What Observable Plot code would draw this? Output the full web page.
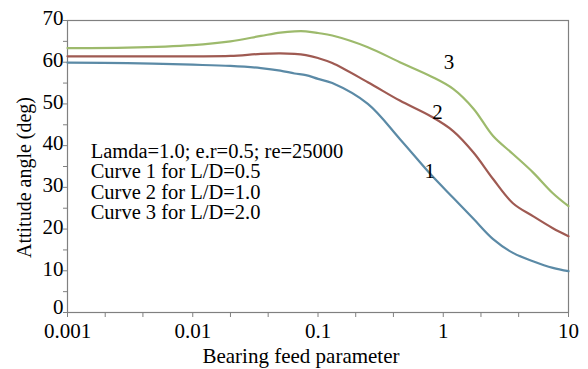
<!DOCTYPE html>
<html>
<head>
<meta charset="utf-8">
<script src="https://cdn.jsdelivr.net/npm/d3@7"></script>
<script src="https://cdn.jsdelivr.net/npm/@observablehq/plot@0.6"></script>
<style>
  html, body { margin: 0; padding: 0; background: #fff; }
  #chart svg { display: block; }
</style>
</head>
<body>
<div id="chart"></div>
<script>
// Bearing feed parameter (x, log scale)
const feed = [0.001, 0.003, 0.01, 0.02, 0.035, 0.05, 0.065, 0.08, 0.1, 0.13, 0.25, 0.45, 0.8, 1.2, 1.75, 2.5, 3.6, 5.2, 7.5, 10];
// Attitude angle (deg) per curve
const curve1 = [59.9, 59.8, 59.4, 59.1, 58.6, 58.0, 57.3, 56.9, 56.0, 55.0, 50.0, 41.6, 33.0, 27.5, 22.4, 17.6, 14.3, 12.3, 10.7, 9.9];
const curve2 = [61.4, 61.4, 61.4, 61.5, 62.0, 62.1, 62.0, 61.7, 61.0, 59.8, 55.2, 50.8, 47.0, 43.5, 38.3, 32.0, 26.2, 23.1, 20.2, 18.3];
const curve3 = [63.4, 63.5, 64.1, 65.0, 66.3, 67.1, 67.4, 67.4, 67.0, 66.4, 63.6, 60.0, 56.6, 53.6, 48.8, 42.3, 38.0, 33.6, 28.6, 25.5];
const seriesNames = ["1", "2", "3"];
const seriesColors = ["#5b8aa6", "#9f5a52", "#9dba6c"];

const xMajor = [0.001, 0.01, 0.1, 1, 10];
const xMajorLabels = ["0.001", "0.01", "0.1", "1", "10"];
const xMinor = [0.002, 0.004, 0.02, 0.04, 0.2, 0.4, 2, 4];
const yMajor = [0, 10, 20, 30, 40, 50, 60, 70];
const yMinor = [5, 15, 25, 35, 45, 55, 65];

const notes = ["Lamda=1.0; e.r=0.5; re=25000", "Curve 1 for L/D=0.5", "Curve 2 for L/D=1.0", "Curve 3 for L/D=2.0"];
const curveLabels = [
  {name: "1", x: 0.78, y: 33.8},
  {name: "2", x: 0.90, y: 47.9},
  {name: "3", x: 1.11, y: 59.9}
];

const rows = [];
[curve1, curve2, curve3].forEach((vals, i) => {
  vals.forEach((v, j) => rows.push({x: feed[j], y: v, s: seriesNames[i]}));
});

const axisGrey = "#808080";
const serif = "Liberation Serif";
const yLabelTicks = yMajor.filter(d => d !== 0);

const chart = Plot.plot({
  width: 588,
  height: 369,
  marginLeft: 67,
  marginRight: 20,
  marginTop: 20,
  marginBottom: 57,
  style: {fontSize: "21px", background: "#fff", color: "#000"},
  x: {type: "log", domain: [0.001, 10]},
  y: {domain: [0, 70]},
  color: {domain: seriesNames, range: seriesColors},
  marks: [
    Plot.frame({stroke: axisGrey, strokeWidth: 1.2}),
    // x axis: major ticks with labels, minor ticks without
    Plot.axisX({ticks: xMajor, tickFormat: (d) => xMajorLabels[xMajor.indexOf(d)], tickSize: 5, tickPadding: 6, stroke: axisGrey, fill: "#000", label: null, fontSize: 21, fontFamily: serif}),
    Plot.axisX({ticks: xMinor, tickFormat: () => "", tickSize: 5, stroke: axisGrey, label: null}),
    // y axis: tick marks only
    Plot.axisY({ticks: [...yMajor, ...yMinor], tickFormat: () => "", tickSize: 4, stroke: axisGrey, label: null}),
    // y axis labels (slightly raised, as in the source)
    Plot.axisY({ticks: yLabelTicks, tickSize: 0, tickPadding: 4, fill: "#000", label: null, fontSize: 21, fontFamily: serif, dy: -2}),
    Plot.axisY({ticks: [0], tickSize: 0, tickPadding: 4, fill: "#000", label: null, fontSize: 21, fontFamily: serif, dy: -5}),
    Plot.line(rows, {x: "x", y: "y", z: "s", stroke: "s", strokeWidth: 2.2, curve: "catmull-rom"}),
    Plot.text(curveLabels, {x: "x", y: "y", text: "name", fontSize: 21, fill: "#000", fontFamily: serif}),
    Plot.text([notes.join("\n")], {x: () => 0.00153, y: () => 40.6, textAnchor: "start", lineAnchor: "top", lineHeight: 1.0, fontSize: 20.5, fill: "#000", fontFamily: serif}),
    Plot.text(["Attitude angle (deg)"], {frameAnchor: "left", dx: -43, dy: 11, rotate: -90, textAnchor: "middle", lineAnchor: "middle", fontSize: 20, fill: "#000", fontFamily: serif}),
    Plot.text(["Bearing feed parameter"], {frameAnchor: "bottom", dx: -17, dy: 44, textAnchor: "middle", lineAnchor: "middle", fontSize: 21, fill: "#000", fontFamily: serif})
  ]
});

document.getElementById("chart").appendChild(chart);
</script>
</body>
</html>
